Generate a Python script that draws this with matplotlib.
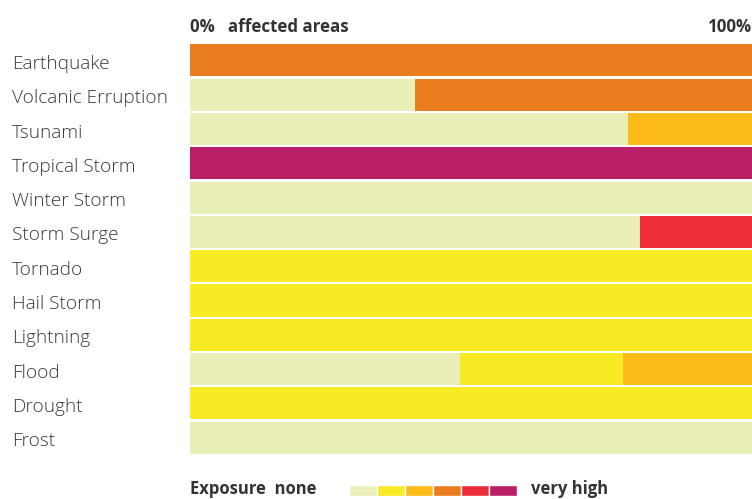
import matplotlib as mpl
mpl.use('Agg')
import matplotlib.pyplot as plt

hazards = ['Earthquake', 'Volcanic Erruption', 'Tsunami', 'Tropical Storm',
           'Winter Storm', 'Storm Surge', 'Tornado', 'Hail Storm', 'Lightning',
           'Flood', 'Drought', 'Frost']

# share of affected areas (%) per exposure level, lowest level first
none_ = [0, 40, 78, 0, 100, 80, 0, 0, 0, 48, 0, 100]
low = [0, 0, 0, 0, 0, 0, 100, 100, 100, 29, 100, 0]
moderate = [0, 0, 22, 0, 0, 0, 0, 0, 0, 23, 0, 0]
high = [100, 60, 0, 0, 0, 0, 0, 0, 0, 0, 0, 0]
very_high = [0, 0, 0, 0, 0, 20, 0, 0, 0, 0, 0, 0]
extreme = [0, 0, 0, 100, 0, 0, 0, 0, 0, 0, 0, 0]

levels = [none_, low, moderate, high, very_high, extreme]
colors = ['#eaefb7', '#f9eb23', '#fcbb17', '#ea7e1f', '#ee2d3a', '#ba1e67']

plt.rcParams['font.family'] = ['Open Sans', 'DejaVu Sans']
txt = '#333333'

fig = plt.figure(figsize=(7.52, 4.99), dpi=100)
ax = fig.add_axes([190 / 752, 1 - 454.8 / 499, 562 / 752, 411.5 / 499])

y = range(len(hazards))
left = [0] * len(hazards)
for vals, c in zip(levels, colors):
    ax.barh(y, vals, left=left, height=0.935, color=c, linewidth=0)
    left = [a + b for a, b in zip(left, vals)]

ax.set_xlim(0, 100)
ax.set_ylim(11.5, -0.5)
ax.set_xticks([])
ax.set_yticks([])
for s in ax.spines.values():
    s.set_visible(False)

for i, h in enumerate(hazards):
    ax.text(-178 / 562 * 100, i + 0.25, h, ha='left', va='baseline',
            fontsize=13.7, fontweight='light', color='#3a3a3a', clip_on=False)

# header
fig.text(190 / 752, 1 - 31.5 / 499, '0%   affected areas', fontsize=12.2,
         fontweight='bold', color=txt, va='baseline', ha='left')
fig.text(752 / 752, 1 - 31.5 / 499, '100%', fontsize=12.2,
         fontweight='bold', color=txt, va='baseline', ha='right')

# legend
lax = fig.add_axes([349 / 752, 1 - 496 / 499, 168 / 752, 11 / 499])
lax.bar(range(len(colors)), [1] * len(colors), width=1, color=colors,
        edgecolor='white', linewidth=1)
lax.set_xlim(-0.5, len(colors) - 0.5)
lax.set_ylim(0, 1)
lax.axis('off')
fig.text(190 / 752, 1 - 494 / 499, 'Exposure  none', fontsize=12,
         fontweight='bold', color=txt, va='baseline', ha='left')
fig.text(531 / 752, 1 - 494 / 499, 'very high', fontsize=12,
         fontweight='bold', color=txt, va='baseline', ha='left')

fig.savefig('out.png', dpi=100)
